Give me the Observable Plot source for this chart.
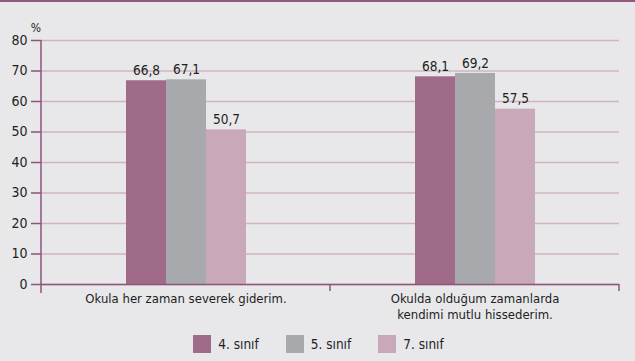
<!DOCTYPE html>
<html>
<head>
<meta charset="utf-8">
<script src="https://cdn.jsdelivr.net/npm/d3@7"></script>
<script src="https://cdn.jsdelivr.net/npm/@observablehq/plot@0.6"></script>
<style>
  html, body { margin: 0; padding: 0; background: #e8e8ea; }
  body { width: 635px; height: 361px; overflow: hidden; border-top: 2px solid #93587c; box-sizing: border-box;
         font-family: "Liberation Sans Narrow", "DejaVu Sans Condensed", "Roboto Condensed", sans-serif; color: #1e1e1e; }
  #chart svg { display: block; }
  #legend { display: flex; justify-content: center; gap: 27px; height: 35px; align-items: center; box-sizing: border-box; padding-left: 2px; }
  .item { display: flex; align-items: center; gap: 7px; font-size: 13.5px; }
  .sw { width: 18px; height: 18px; display: inline-block; }
</style>
</head>
<body>
<div id="chart"></div>
<div id="legend"></div>
<script>
const categories = ["Okula her zaman severek giderim.", "Okulda olduğum zamanlarda\nkendimi mutlu hissederim."];
const series = ["4. sınıf", "5. sınıf", "7. sınıf"];
const values4 = [66.8, 68.1];
const values5 = [67.1, 69.2];
const values7 = [50.7, 57.5];
const colors = ["#a06b88", "#a8a9ac", "#c9a8b9"];
const yTicks = [0, 10, 20, 30, 40, 50, 60, 70, 80];

const seriesValues = [values4, values5, values7];
const data = [];
categories.forEach((c, i) => series.forEach((s, j) => data.push({category: c, series: s, value: seriesValues[j][i]})));

const axisColor = "#8e5579";
const gridColor = "#d0b4c3";
const font = '"Liberation Sans Narrow", "DejaVu Sans Condensed", sans-serif';

const plot = Plot.plot({
  width: 635, height: 324,
  marginLeft: 41, marginRight: 16, marginTop: 38, marginBottom: 42,
  style: {background: "transparent", fontFamily: font, fontSize: "13px", color: "#1e1e1e"},
  fx: {domain: categories, padding: 0, label: null},
  x: {domain: series, paddingInner: 0, paddingOuter: 2.1125, axis: null},
  y: {domain: [0, 80], label: null},
  color: {domain: series, range: colors},
  marks: [
    Plot.gridY(yTicks, {stroke: gridColor, strokeOpacity: 1, strokeWidth: 1.5}),
    Plot.barY(data, {fx: "category", x: "series", y: "value", fill: "series"}),
    Plot.text(data, {fx: "category", x: "series", y: "value", text: d => d.value.toFixed(1).replace(".", ","), dy: -10, fill: "#1e1e1e", fontSize: 13.5}),
    Plot.ruleY([0], {stroke: axisColor, strokeWidth: 1.5}),
    Plot.axisY(yTicks, {tickSize: 10, tickPadding: 4, fontSize: 14, label: null, stroke: axisColor, strokeWidth: 1.5, fill: "#1e1e1e"}),
    Plot.axisFx({anchor: "bottom", tickSize: 0, tickPadding: 7, label: null, fontSize: 13, lineHeight: 1.25, fill: "#1e1e1e"})
  ]
});
document.getElementById("chart").appendChild(plot);

// decorations using the plot's own scales
const svg = d3.select(plot.tagName.toLowerCase() === "svg" ? plot : plot.querySelector("svg"));
const ys = plot.scale("y");
const fxs = plot.scale("fx");
const y0 = ys.apply(0), y80 = ys.apply(80);
const g = svg.append("g").attr("stroke", axisColor).attr("stroke-width", 1.5);
g.append("line").attr("x1", 41).attr("x2", 41).attr("y1", y80).attr("y2", y0 + 9);
categories.forEach(c => {
  const x = fxs.apply(c) + fxs.bandwidth;
  g.append("line").attr("x1", x).attr("x2", x).attr("y1", y0).attr("y2", y0 + 7);
});
svg.append("text").attr("x", 36).attr("y", y80 - 8).attr("font-size", 12).attr("fill", "#1e1e1e").attr("font-family", font).text("%");

// legend
const legend = document.getElementById("legend");
series.forEach((s, i) => {
  const it = document.createElement("div"); it.className = "item";
  const sw = document.createElement("span"); sw.className = "sw"; sw.style.background = colors[i];
  const t = document.createElement("span"); t.textContent = s;
  it.appendChild(sw); it.appendChild(t); legend.appendChild(it);
});
</script>
</body>
</html>
